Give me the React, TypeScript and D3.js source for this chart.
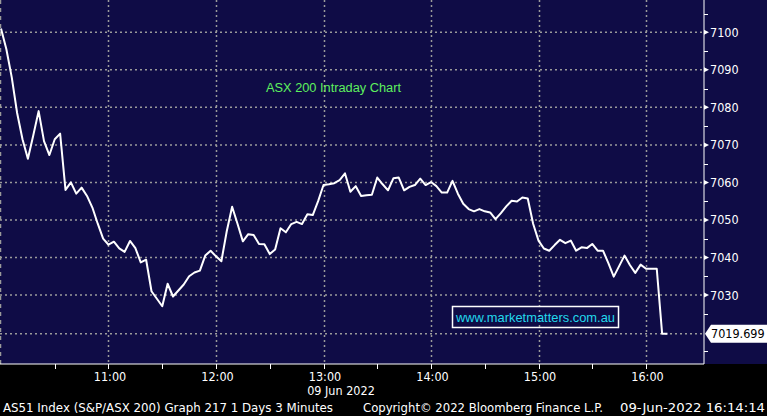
import React from "react";
import * as d3 from "d3";

const startTime = "10:00";
const stepMinutes = 3;
const values: number[] = [
  7101, 7095.5, 7088, 7078.5, 7071.5, 7066.3, 7072.5, 7079, 7071, 7067.3,
  7071.5, 7073, 7058, 7060, 7057, 7058.6, 7056.4, 7053.3, 7049, 7045,
  7043.4, 7044.2, 7042.4, 7041.5, 7044.4, 7042.5, 7038.7, 7039.4, 7031, 7029,
  7027, 7033, 7029.6, 7031.2, 7032.8, 7035, 7036, 7036.5, 7040.5, 7041.8,
  7040.3, 7039, 7047, 7053.5, 7049, 7044.3, 7046.2, 7046, 7043.6, 7043.5,
  7040.9, 7042.1, 7047.8, 7046.7, 7048.9, 7049.5, 7048.9, 7051.5, 7051.3, 7055,
  7059.3, 7059.5, 7059.8, 7060.6, 7062.4, 7057.5, 7059, 7056.4, 7056.6, 7056.7,
  7061.3, 7059.5, 7057.9, 7061.1, 7061.3, 7057.9, 7058.8, 7059.3, 7061, 7059.3,
  7060.1, 7059, 7057.3, 7057.3, 7060.4, 7057, 7054.3, 7052.9, 7052.3, 7052.9,
  7052.3, 7052, 7050.2, 7051.8, 7053.6, 7055.1, 7054.9, 7056, 7055.7, 7049,
  7044.5, 7042.4, 7041.8, 7043.3, 7044.7, 7043.8, 7044.5, 7041.8, 7042.7, 7042.5,
  7043.6, 7041.8, 7041.8, 7038.5, 7034.9, 7037.7, 7040.5, 7038, 7035.9, 7038.1,
  7037, 7037, 7037, 7019.7, 7019.699,
];
const yTicks = [7030, 7040, 7050, 7060, 7070, 7080, 7090, 7100];
const yMinorTicks = [7015, 7025, 7035, 7045, 7055, 7065, 7075, 7085, 7095, 7105];
const hourLabels = ["11:00", "12:00", "13:00", "14:00", "15:00", "16:00"];
const halfHourTicks = ["10:30", "11:00", "11:30", "12:00", "12:30", "13:00", "13:30", "14:00", "14:30", "15:00", "15:30", "16:00"];
const lastValueLabel = "7019.699";
const title = "ASX 200 Intraday Chart";
const dateLabel = "09 Jun 2022";
const watermark = "www.marketmatters.com.au";
const footerLeft = "AS51 Index (S&P/ASX 200) Graph 217 1 Days 3 Minutes";
const footerMid = "Copyright\u00A9 2022 Bloomberg Finance L.P.";
const footerRight = "09-Jun-2022 16:14:14";

const parse = (s: string) => {
  const [h, m] = s.split(":").map(Number);
  return new Date(2022, 5, 9, h, m);
};

export default function App() {
  const W = 767, H = 416;
  const plotRight = 704;
  const plotBottom = 364;
  const t0 = parse(startTime);
  const times = values.map((_, i) => new Date(t0.getTime() + i * stepMinutes * 60000));
  const x = d3.scaleTime().domain([parse("10:00"), parse("16:00")]).range([1, 646]);
  const y = d3.scaleLinear().domain([7100, 7030]).range([32.3, 295]);
  const line = d3.line<number>().x((_, i) => x(times[i])).y((d) => y(d));
  const lastV = values[values.length - 1];
  const ly = y(lastV);
  const font = "'DejaVu Sans Condensed', 'Liberation Sans Narrow', 'DejaVu Sans', sans-serif";
  const grid = "#9a9a9a";

  return (
    <svg width={W} height={H} style={{ position: "absolute", left: 0, top: 0, display: "block" }}>
      <rect x={0} y={0} width={W} height={H} fill="#000" />
      <rect x={0} y={0} width={W} height={plotBottom} fill="#0f0c46" />
      {/* vertical grid */}
      <line x1={0.5} x2={0.5} y1={0} y2={plotBottom} stroke={grid} strokeWidth={1.5} strokeDasharray="4,4" />
      {hourLabels.map((h) => (
        <line key={h} x1={Math.round(x(parse(h))) + 0.5} x2={Math.round(x(parse(h))) + 0.5} y1={0} y2={plotBottom} stroke={grid} strokeWidth={1.5} strokeDasharray="2,3" />
      ))}
      {/* horizontal grid */}
      {yTicks.map((v) => (
        <line key={v} x1={0} x2={plotRight} y1={y(v)} y2={y(v)} stroke={grid} strokeWidth={1.5} strokeDasharray="2,3" />
      ))}
      <line x1={0} x2={plotRight} y1={ly} y2={ly} stroke={grid} strokeWidth={1.5} strokeDasharray="2,3" />
      {/* frame */}
      <line x1={plotRight} x2={plotRight} y1={0} y2={plotBottom} stroke="#fff" strokeWidth={1} />
      <line x1={0} x2={plotRight} y1={plotBottom} y2={plotBottom} stroke="#fff" strokeWidth={1} />
      {/* right axis ticks */}
      {yMinorTicks.map((v) => (
        <line key={v} x1={plotRight} x2={plotRight + 4} y1={Math.round(y(v)) + 0.5} y2={Math.round(y(v)) + 0.5} stroke="#fff" strokeWidth={1} />
      ))}
      {yTicks.map((v) => (
        <g key={v}>
          <path d={`M${plotRight},${y(v) - 2.5}L${plotRight + 5},${y(v)}L${plotRight},${y(v) + 2.5}Z`} fill="#fff" />
          <text x={710} y={y(v) + 4.5} fill="#fff" fontSize={12.5} fontFamily={font}>{v}</text>
        </g>
      ))}
      {/* bottom ticks */}
      {halfHourTicks.map((h) => (
        <line key={h} x1={Math.round(x(parse(h))) + 0.5} x2={Math.round(x(parse(h))) + 0.5} y1={plotBottom} y2={plotBottom + 5} stroke="#fff" strokeWidth={1} />
      ))}
      {hourLabels.map((h) => (
        <text key={h} x={x(parse(h)) + 1.5} y={381} fill="#fff" fontSize={12.5} fontFamily={font} textAnchor="middle">{h}</text>
      ))}
      <text x={341} y={395} fill="#fff" fontSize={12.5} fontFamily={font} textAnchor="middle">{dateLabel}</text>
      {/* title */}
      <text x={333.5} y={92} fill="#5ef05e" fontSize={12.5} fontFamily="'Liberation Sans', Arial, sans-serif" textAnchor="middle" textLength={135} lengthAdjust="spacingAndGlyphs">{title}</text>
      {/* watermark */}
      <rect x={452.5} y={306.5} width={166} height={21} fill="none" stroke="#fff" strokeWidth={1.5} />
      <text x={535.5} y={322} fill="#22d8ec" fontSize={13} fontFamily="'Liberation Sans', Arial, sans-serif" textAnchor="middle" textLength={159} lengthAdjust="spacingAndGlyphs">{watermark}</text>
      {/* price line */}
      <path d={line(values) ?? ""} fill="none" stroke="#fff" strokeWidth={2} strokeLinejoin="round" />
      {/* last value tag */}
      <path d={`M${plotRight + 1},${ly}L${plotRight + 7},${ly - 9}L${W},${ly - 9}L${W},${ly + 9}L${plotRight + 7},${ly + 9}Z`} fill="#fff" />
      <text x={711} y={ly + 4.5} fill="#000" fontSize={12.5} fontFamily={font}>{lastValueLabel}</text>
      {/* footer */}
      <text x={3} y={412} fill="#fff" fontSize={12.5} fontFamily={font} textLength={330} lengthAdjust="spacingAndGlyphs">{footerLeft}</text>
      <text x={363} y={412} fill="#fff" fontSize={12.5} fontFamily={font} textLength={240} lengthAdjust="spacingAndGlyphs">{footerMid}</text>
      <text x={620} y={412} fill="#fff" fontSize={12.5} fontFamily={font} textLength={145} lengthAdjust="spacingAndGlyphs">{footerRight}</text>
    </svg>
  );
}
